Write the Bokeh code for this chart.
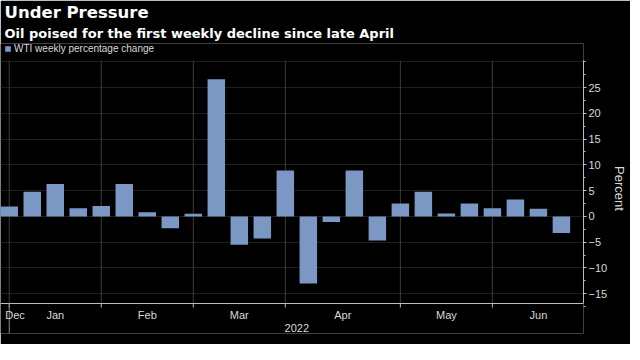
from bokeh.plotting import figure
from bokeh.models import (ColumnDataSource, FixedTicker, Range1d,
                          Title, Legend, LegendItem)
from bokeh.core.properties import value
from bokeh.embed import file_html
from bokeh.resources import INLINE

# ---- data ----
weeks = ["2021-12-31", "2022-01-07", "2022-01-14", "2022-01-21", "2022-01-28",
         "2022-02-04", "2022-02-11", "2022-02-18", "2022-02-25", "2022-03-04",
         "2022-03-11", "2022-03-18", "2022-03-25", "2022-04-01", "2022-04-08",
         "2022-04-15", "2022-04-22", "2022-04-29", "2022-05-06", "2022-05-13",
         "2022-05-20", "2022-05-27", "2022-06-03", "2022-06-10", "2022-06-17"]
wti_change = [1.9, 4.8, 6.3, 1.6, 2.0, 6.3, 0.8, -2.3, 0.5, 26.6,
              -5.5, -4.3, 8.9, -13.0, -1.1, 8.9, -4.7, 2.5, 4.8, 0.55,
              2.5, 1.6, 3.3, 1.5, -3.2]
month_names = ["Dec", "Jan", "Feb", "Mar", "Apr", "May", "Jun"]
year_label = "2022"
y_ticks = [-15, -10, -5, 0, 5, 10, 15, 20, 25]

title_text = "Under Pressure"
subtitle_text = "Oil poised for the first weekly decline since late April"
legend_text = "WTI weekly percentage change"
axis_label = "Percent"

# ---- derived positions ----
idx = list(range(len(weeks)))
months = [w[5:7] for w in weeks]
# boundary = last week of each month
bounds = [i for i in idx[:-1] if months[i] != months[i + 1]]
edges = [-4] + bounds + [len(weeks)]
label_pos = [(edges[k] + edges[k + 1]) / 2 for k in range(len(edges) - 1)]
label_pos[0] = 0.25  # clamp first (partial) month label inside the frame
year_start = 0       # first week of the 2022 span
year_pos = 12.5

BG = "#000000"
BAR = "#7b97c4"
GRID = "#3c3c3c"
AX = "#bdbdbd"
TXT = "#d9d9d9"
FONT = "Liberation Sans"
TFONT = "DejaVu Sans"

# layout (pixels)
FW = 583
DATA_H = 243           # height of the data area
TOP_PAD = 17           # frame space above data area (legend)
BOT_PAD = 30           # frame space below data area (date axis)
FH = DATA_H + TOP_PAD + BOT_PAD

X0, X1 = -0.38, 24.96
Y0, Y1 = -16.9, 30.25              # data area
S = DATA_H / (Y1 - Y0)             # px per percent
Y_TOP = Y1 + TOP_PAD / S
Y_BOT = Y0 - BOT_PAD / S

src = ColumnDataSource(dict(x=idx, chg=wti_change, week=weeks))

p = figure(frame_width=FW, frame_height=FH, output_backend="svg",
           toolbar_location=None, title=None,
           x_range=Range1d(X0, X1), y_range=Range1d(Y_BOT, Y_TOP),
           x_axis_location=None, y_axis_location="right",
           min_border_left=0, min_border_right=0,
           min_border_top=43, min_border_bottom=11,
           background_fill_color=BG, border_fill_color=BG)
p.outline_line_color = None
p.xgrid.visible = False

# vertical grid lines (month boundaries), limited to the data area
p.segment(x0=bounds, y0=[Y0] * len(bounds), x1=bounds, y1=[Y1] * len(bounds),
          line_color=GRID, line_width=1)

p.ygrid.ticker = FixedTicker(ticks=y_ticks + [30])
p.ygrid.grid_line_color = GRID
p.ygrid.grid_line_dash = "1 1"

r = p.vbar(x="x", top="chg", width=0.76, source=src, fill_color=BAR,
           line_color=None)

# ---- date axis drawn inside the frame ----
p.segment(x0=[X0], y0=[Y0], x1=[X1], y1=[Y0], line_color=AX, line_width=1)
p.segment(x0=bounds, y0=[Y0] * len(bounds), x1=bounds,
          y1=[Y0 - 4 / S] * len(bounds), line_color=AX, line_width=1)
# year separator
p.segment(x0=[year_start], y0=[Y0], x1=[year_start], y1=[Y_BOT],
          line_color="#8a8a8a", line_width=1)
p.text(x=label_pos, y=[Y0 - 11.8 / S] * len(label_pos), text=month_names,
       text_align="center", text_baseline="alphabetic",
       text_font=value(FONT), text_font_size="11px", text_color=TXT)
p.text(x=[year_pos], y=[Y0 - 24.6 / S], text=[year_label],
       text_align="center", text_baseline="alphabetic",
       text_font=value(FONT), text_font_size="11px", text_color=TXT)

# ---- y axis (right) ----
ya = p.yaxis[0]
ya.bounds = (Y0, Y1)
ya.ticker = FixedTicker(ticks=y_ticks,
                        minor_ticks=[v / 2 for v in range(-35, 61, 5)])
ya.axis_line_color = AX
ya.major_tick_line_color = AX
ya.major_tick_out = 3
ya.major_tick_in = 0
ya.minor_tick_line_color = AX
ya.minor_tick_out = 2
ya.minor_tick_in = 0
ya.major_label_text_color = TXT
ya.major_label_text_font = FONT
ya.major_label_text_font_size = "11px"
ya.major_label_standoff = 2
ya.axis_label = axis_label
ya.axis_label_text_color = TXT
ya.axis_label_text_font = FONT
ya.axis_label_text_font_style = "normal"
ya.axis_label_text_font_size = "13px"
ya.axis_label_standoff = 2

# legend at the top of the frame (above the data area)
leg = Legend(items=[LegendItem(label=legend_text, renderers=[r])],
             location=(4, FH - 11), orientation="horizontal",
             background_fill_alpha=0, border_line_color=None,
             label_text_color=TXT, label_text_font=FONT,
             label_text_font_size="10px", glyph_width=7, glyph_height=7,
             label_standoff=3, padding=0, margin=0, label_height=10)
p.add_layout(leg, "center")

sub = Title(text=subtitle_text, text_font=TFONT, text_font_size="13px",
            text_font_style="bold", text_color="white", align="left",
            offset=4, standoff=5)
p.add_layout(sub, "above")
main = Title(text=title_text, text_font=TFONT, text_font_size="16.5px",
             text_font_style="bold", text_color="white", align="left",
             offset=4, standoff=0)
p.add_layout(main, "above")

open("out.html", "w").write(file_html(p, INLINE))
